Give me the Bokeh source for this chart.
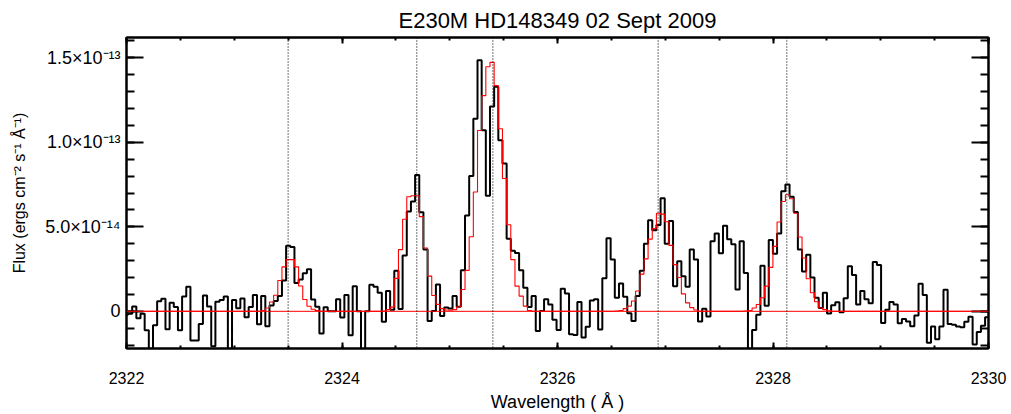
import numpy as np
from bokeh.plotting import figure
from bokeh.models import Range1d, LinearAxis, FixedTicker, CustomJSTickFormatter, Span
from bokeh.embed import file_html
from bokeh.resources import INLINE

TITLE = "E230M HD148349 02 Sept 2009"
X_LABEL = "Wavelength ( Å )"
Y_LABEL = "Flux (ergs cm⁻² s⁻¹ Å⁻¹)"

# wavelength grid of the spectrum (left edge of first pixel, Angstrom per pixel)
WAVE_START = 2321.9755
DISPERSION = 0.038613
FLUX_UNIT = 1e-14

# observed flux, in units of 1e-14 erg/cm2/s/A, one value per pixel
flux = [
    -0.20, -0.15, 0.29, -0.41, -0.14, -1.12, -3.00, -0.82, 0.59, 0.75,
    -1.06, 0.51, 0.25, -1.12, 0.88, 1.45, -1.73, -1.73, -0.75, 0.94,
    0.29, -2.06, 0.57, 0.67, 0.88, -3.00, 0.67, 0.18, 0.76, -0.35,
    0.25, 0.96, -0.76, 0.90, -0.88, 0.35, 0.61, 0.90, 1.82, 3.88,
    3.80, 1.67, 1.88, 2.25, 2.49, 0.70, 0.27, -1.31, 0.24, 0.00,
    0.00, 0.72, -0.37, 0.96, -1.41, 1.49, 0.00, -3.00, 0.00, 1.57,
    1.45, 1.10, -0.61, 1.20, 0.10, 2.40, 0.14, 3.30, 5.90, 6.50,
    8.06, 5.86, 3.65, -0.57, 0.02, 1.59, -0.27, 0.22, 0.16, 0.90,
    0.27, 2.43, 5.67, 8.00, 11.39, 14.86, 10.71, 6.84, 12.12, 13.29,
    10.12, 8.75, 4.29, 3.59, 3.45, 2.43, 1.39, 0.25, 0.90, -1.16,
    0.02, 0.71, 0.41, -0.50, -1.10, 1.34, 1.06, -1.35, -1.40, 0.55,
    -1.55, -0.91, 0.64, 0.71, -1.08, 1.95, 4.33, 3.06, 0.80, 1.65,
    0.86, -0.12, -0.57, 0.90, 2.40, 4.00, 5.39, 4.80, 5.10, 6.69,
    4.00, 5.35, 1.49, 2.96, 2.08, 1.45, 3.65, 3.06, -0.60, 0.15,
    -0.30, 4.14, 4.60, 3.43, 5.06, 4.27, 3.97, 1.29, 4.15, 2.27,
    -3.00, -1.10, -0.20, 2.70, 0.33, 4.22, 3.40, 4.60, 7.10, 7.50,
    6.78, 5.88, 3.65, 2.35, 3.35, 2.00, 0.80, 0.20, 1.10, -0.13,
    0.36, 0.53, -0.06, 0.78, 2.67, 2.15, 0.41, 1.20, 0.71, 0.47,
    2.92, 2.74, -0.69, 0.10, 0.55, 0.40, -0.70, -0.45, -0.60, -0.88,
    -0.25, 1.63, 0.96, -1.86, -0.90, -1.65, -0.90, 1.28, -0.75, -0.80,
    -0.90, -0.95, -0.62, -0.32, -1.96, -1.23, -0.86, -0.35,
]

# line-profile model, same pixels and units
model = [
    0, 0, 0, 0, 0, 0, 0, 0, 0, 0,
    0, 0, 0, 0, 0, 0, 0, 0, 0, 0,
    0, 0, 0, 0, 0, 0, 0, 0, 0, 0,
    0, 0, 0, 0.05, 0.20, 0.55, 0.95, 1.82, 2.63, 3.06,
    3.06, 2.63, 1.50, 0.70, 0.30, 0.12, 0.04, 0, 0, 0,
    0, 0, 0, 0, 0, 0, 0, 0, 0, 0,
    0, 0, 0.02, 0.10, 0.25, 1.95, 3.65, 5.45, 6.78, 6.84,
    6.84, 5.60, 3.75, 2.08, 0.94, 0.41, 0.16, 0.08, 0.06, 0.10,
    0.27, 1.29, 2.42, 4.41, 7.06, 10.70, 12.76, 14.47, 14.73, 13.35,
    10.80, 7.86, 5.12, 3.06, 1.49, 0.90, 0.31, 0.05, 0, 0,
    0, 0, 0, 0, 0, 0, 0, 0, 0, 0,
    0, 0, 0, 0, 0, 0, 0, 0, 0.02, 0.05,
    0.16, 0.31, 0.61, 1.20, 2.20, 3.10, 4.27, 4.90, 5.80, 5.75,
    5.30, 3.90, 2.76, 2.00, 1.03, 0.50, 0.22, 0.08, 0, 0,
    0, 0, 0, 0, 0, 0, 0, 0, 0, 0.02,
    0.05, 0.20, 0.40, 0.80, 1.49, 2.60, 3.84, 5.28, 6.50, 6.90,
    6.66, 5.80, 4.40, 3.15, 1.93, 1.10, 0.57, 0.20, 0.10, 0.03,
    0, 0, 0, 0, 0, 0, 0, 0, 0, 0,
    0, 0, 0, 0, 0, 0, 0, 0, 0, 0,
    0, 0, 0, 0, 0, 0, 0, 0, 0, 0,
    0, 0, 0, 0, 0, 0, 0, 0,
]

# rest wavelengths of the marked lines
line_centers = [2323.50, 2324.694, 2325.40, 2326.934, 2328.128]

x_major = [2322, 2324, 2326, 2328, 2330]
x_minor = [2322 + 0.5 * i for i in range(17)]
y_major = [0, 5e-14, 1e-13, 1.5e-13]
y_minor = [k * 1e-14 for k in range(-2, 17)]
X_RANGE = (2322, 2330)
Y_RANGE = (-2.2e-14, 1.62e-13)

FONT = "Liberation Sans"

n = len(flux)
edges = WAVE_START + DISPERSION * np.arange(n + 1)
fy = np.append(np.array(flux, dtype=float), flux[-1]) * FLUX_UNIT
my = np.append(np.array(model, dtype=float), model[-1]) * FLUX_UNIT

p = figure(width=1011, height=414,
           x_range=Range1d(*X_RANGE), y_range=Range1d(*Y_RANGE),
           output_backend="svg", toolbar_location=None,
           min_border_left=126, min_border_right=23,
           min_border_top=37, min_border_bottom=65,
           title=TITLE, x_axis_label=X_LABEL, y_axis_label=Y_LABEL)

p.background_fill_color = "white"
p.border_fill_color = "white"
p.outline_line_color = "black"
p.outline_line_width = 2
p.xgrid.visible = False
p.ygrid.visible = False

p.title.align = "center"
p.title.text_font = FONT
p.title.text_font_size = "22px"
p.title.text_font_style = "normal"
p.title.text_color = "black"
p.title.standoff = 10

yfmt = CustomJSTickFormatter(code="""
if (Math.abs(tick) < 1e-20) { return "0"; }
const e = Math.floor(Math.log10(Math.abs(tick)) + 1e-9);
const m = tick / Math.pow(10, e);
const sup = {"-":"\u207b","0":"\u2070","1":"\u00b9","2":"\u00b2","3":"\u00b3","4":"\u2074","5":"\u2075","6":"\u2076","7":"\u2077","8":"\u2078","9":"\u2079"};
return m.toFixed(1) + "\u00d710" + String(e).split("").map(c => sup[c]).join("");
""")


def style_axis(ax, tick_len, minor_len):
    ax.axis_line_color = "black"
    ax.axis_line_width = 2
    ax.major_tick_in = tick_len
    ax.major_tick_out = 0
    ax.minor_tick_in = minor_len
    ax.minor_tick_out = 0
    ax.major_tick_line_width = 2
    ax.minor_tick_line_width = 2
    ax.major_tick_line_color = "black"
    ax.minor_tick_line_color = "black"
    ax.major_label_text_font = FONT
    ax.major_label_text_color = "black"
    ax.axis_label_text_font = FONT
    ax.axis_label_text_font_style = "normal"
    ax.axis_label_text_color = "black"


xb = p.xaxis[0]
xb.ticker = FixedTicker(ticks=x_major, minor_ticks=x_minor)
style_axis(xb, 6, 3)
xb.major_label_text_font_size = "16px"
xb.major_label_standoff = 23
xb.axis_label_text_font_size = "18px"
xb.axis_label_standoff = 5

yl = p.yaxis[0]
yl.ticker = FixedTicker(ticks=y_major, minor_ticks=y_minor)
yl.formatter = yfmt
style_axis(yl, 17, 8)
yl.major_label_text_font_size = "18px"
yl.major_label_standoff = 6
yl.axis_label_text_font_size = "16px"
yl.axis_label_standoff = 14

xt = LinearAxis(ticker=FixedTicker(ticks=x_major, minor_ticks=x_minor))
style_axis(xt, 6, 3)
xt.major_label_text_font_size = "0px"
xt.major_label_standoff = 0
p.add_layout(xt, "above")

yr = LinearAxis(ticker=FixedTicker(ticks=y_major, minor_ticks=y_minor))
style_axis(yr, 17, 8)
yr.major_label_text_font_size = "0px"
yr.major_label_standoff = 0
p.add_layout(yr, "right")

p.step(edges, fy, mode="after", line_color="black", line_width=2)
p.add_layout(Span(location=0, dimension="width", line_color="red", line_width=1))
p.step(edges, my, mode="after", line_color="red", line_width=1.1)

for c in line_centers:
    p.add_layout(Span(location=c, dimension="height", line_color="black",
                      line_width=1.1, line_dash="1 2"))

open("out.html", "w").write(file_html(p, INLINE))
